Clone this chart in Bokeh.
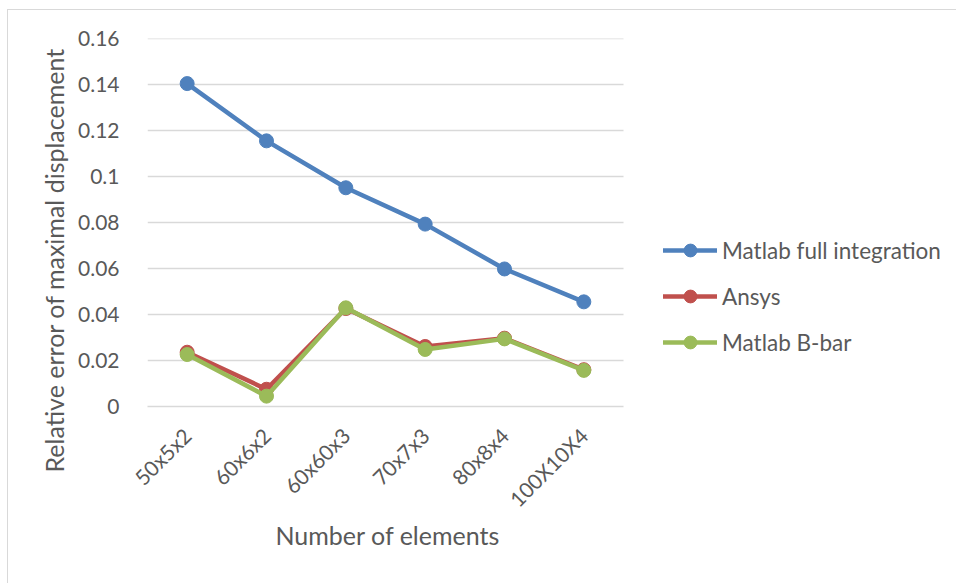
import math
from bokeh.plotting import figure
from bokeh.models import Legend, LegendItem, CustomJSTickFormatter, FixedTicker, Title, Range1d
from bokeh.embed import file_html
from bokeh.resources import INLINE

categories = ["50x5x2", "60x6x2", "60x60x3", "70x7x3", "80x8x4", "100X10X4"]
matlab_full = [0.1404, 0.1155, 0.0951, 0.0793, 0.0598, 0.0455]
ansys = [0.0236, 0.0075, 0.0426, 0.0261, 0.0297, 0.0160]
matlab_bbar = [0.0226, 0.0045, 0.0429, 0.0248, 0.0294, 0.0157]
y_ticks = [0, 0.02, 0.04, 0.06, 0.08, 0.10, 0.12, 0.14, 0.16]

FONT = "Lato"
TXT = "#595959"
GRID = "#d9d9d9"

W, H = 956, 583
FL, FR, FT, FB = 147, 948, 38, 406      # frame edges in page px
n = len(categories)
unit = (623 - 147) / n                   # px per category
x_end = (FR - FL) / unit

xs = [i + 0.5 for i in range(n)]

p = figure(width=W, height=H, x_range=Range1d(0, x_end), y_range=Range1d(0, 0.16),
           output_backend="svg", toolbar_location=None,
           min_border_left=FL, min_border_right=W - FR,
           min_border_top=FT, min_border_bottom=H - FB)
p.outline_line_color = None
p.background_fill_color = "white"
p.border_fill_color = "white"
p.border_fill_alpha = 0
p.styles = {"background": ("linear-gradient(#d9d9d9,#d9d9d9) 7px 9px / 1px 100% no-repeat, "
                           "linear-gradient(#d9d9d9,#d9d9d9) 7px 9px / 100% 1px no-repeat, white")}

# grid lines (only across the category span)
p.xgrid.grid_line_color = None
p.ygrid.grid_line_color = None
p.segment(x0=[0] * len(y_ticks[1:]), x1=[n] * len(y_ticks[1:]), y0=y_ticks[1:], y1=y_ticks[1:],
          line_color=GRID, line_width=1.3)

# y axis
p.yaxis.ticker = FixedTicker(ticks=y_ticks)
p.yaxis.formatter = CustomJSTickFormatter(code="return String(parseFloat(tick.toFixed(4)));")
p.yaxis.axis_line_color = None
p.yaxis.major_tick_line_color = None
p.yaxis.minor_tick_line_color = None
p.yaxis.major_label_standoff = 22
p.yaxis.major_label_text_font = FONT
p.yaxis.major_label_text_font_size = "21px"
p.yaxis.major_label_text_color = TXT

# x axis
p.xaxis.ticker = FixedTicker(ticks=xs)
p.xaxis.major_label_overrides = {x: c for x, c in zip(xs, categories)}
p.xaxis.bounds = (0, n)
p.xaxis.axis_line_color = GRID
p.xaxis.axis_line_width = 1.3
p.xaxis.major_tick_line_color = None
p.xaxis.minor_tick_line_color = None
p.xaxis.major_label_orientation = math.pi / 4
p.xaxis.major_label_standoff = 19
p.xaxis.major_label_text_font = FONT
p.xaxis.major_label_text_font_size = "21px"
p.xaxis.major_label_text_color = TXT

# axis titles
xtitle = Title(text="Number of elements", align="left", offset=128,
               text_font=FONT, text_font_size="25px", text_font_style="normal",
               text_color=TXT, standoff=-12)
p.add_layout(xtitle, "below")
ytitle = Title(text="Relative error of maximal displacement", align="left", offset=-66,
               text_font=FONT, text_font_size="25px", text_font_style="normal",
               text_color=TXT, standoff=14)
p.add_layout(ytitle, "left")

series = [("Matlab full integration", matlab_full, "#4F81BD"),
          ("Ansys", ansys, "#C0504D"),
          ("Matlab B-bar", matlab_bbar, "#9BBB59")]
items = []
for name, vals, col in series:
    r1 = p.line(xs, vals, line_color=col, line_width=4.5, line_join="round", line_cap="round")
    r2 = p.scatter(xs, vals, size=14, fill_color=col, line_color=col)
    items.append(LegendItem(label=name, renderers=[r1, r2]))

legend = Legend(items=items, location=(516, 48), orientation="vertical",
                glyph_width=54, glyph_height=32, spacing=14, padding=0,
                label_standoff=5, label_text_font=FONT, label_text_font_size="22.5px",
                label_text_color=TXT, border_line_color=None, background_fill_alpha=0,
                label_height=20, margin=0)
p.add_layout(legend, "center")

open("out.html", "w").write(file_html(p, INLINE))
